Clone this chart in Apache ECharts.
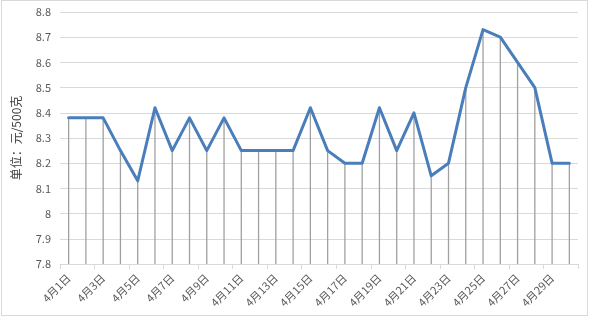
<!DOCTYPE html>
<html><head><meta charset="utf-8">
<script src="https://cdn.jsdelivr.net/npm/echarts@6/dist/echarts.min.js"></script>
<style>html,body{margin:0;padding:0;background:#fff}#c{position:absolute;left:1px;top:0;width:587px;height:316px;border:1px solid #d9d9d9;box-sizing:border-box}</style>
</head><body><div id="c"></div>
<script>
const categories = ['4月1日','4月2日','4月3日','4月4日','4月5日','4月6日','4月7日','4月8日','4月9日','4月10日','4月11日','4月12日','4月13日','4月14日','4月15日','4月16日','4月17日','4月18日','4月19日','4月20日','4月21日','4月22日','4月23日','4月24日','4月25日','4月26日','4月27日','4月28日','4月29日','4月30日'];
const prices = [8.38,8.38,8.38,8.25,8.13,8.42,8.25,8.38,8.25,8.38,8.25,8.25,8.25,8.25,8.42,8.25,8.2,8.2,8.42,8.25,8.40,8.15,8.2,8.5,8.73,8.70,8.60,8.50,8.2,8.2];
const yTicks = [7.8,7.9,8,8.1,8.2,8.3,8.4,8.5,8.6,8.7,8.8];
const yTitle = '单位：元/500克';
const FONT = '"Noto Sans CJK SC", "Noto Sans", sans-serif';
const chart = echarts.init(document.getElementById('c'));
chart.setOption({
  animation: false,
  grid: {left: 53, right: 9, top: 11, bottom: 51, containLabel: false},
  xAxis: {
    type: 'category', data: categories, boundaryGap: true,
    axisLine: {lineStyle: {color: '#d9d9d9'}},
    axisTick: {show: true, interval: 1, length: 5, lineStyle: {color: '#d9d9d9'}},
    axisLabel: {interval: 1, rotate: 45, color: '#595959', fontSize: 11, fontFamily: FONT, margin: 12}
  },
  yAxis: {
    type: 'value', min: 7.8, max: 8.8, interval: 0.1,
    name: yTitle, nameLocation: 'middle', nameGap: 38, nameRotate: 90,
    nameTextStyle: {color: '#404040', fontSize: 12, fontFamily: FONT},
    axisLine: {show: false}, axisTick: {show: false},
    axisLabel: {color: '#595959', fontSize: 11, fontFamily: FONT, margin: 9,
      formatter: v => { const t = yTicks.find(x => Math.abs(x - v) < 1e-6); return t === undefined ? '' : String(t); }},
    splitLine: {lineStyle: {color: '#d9d9d9', width: 1}}
  },
  series: [
    {
      type: 'custom', z: 1, silent: true,
      data: prices.map((v, i) => [i, v]),
      renderItem: (params, api) => {
        const top = api.coord([api.value(0), api.value(1)]);
        const bot = api.coord([api.value(0), 7.8]);
        return {type: 'line', shape: {x1: top[0], y1: top[1], x2: bot[0], y2: bot[1]},
          style: {stroke: '#a0a0a0', lineWidth: 1.3}};
      }
    },
    {
      type: 'line', z: 3, data: prices, symbol: 'none', smooth: false,
      lineStyle: {color: '#4a7ebb', width: 3, join: 'round', cap: 'round'}
    }
  ]
});
</script></body></html>
